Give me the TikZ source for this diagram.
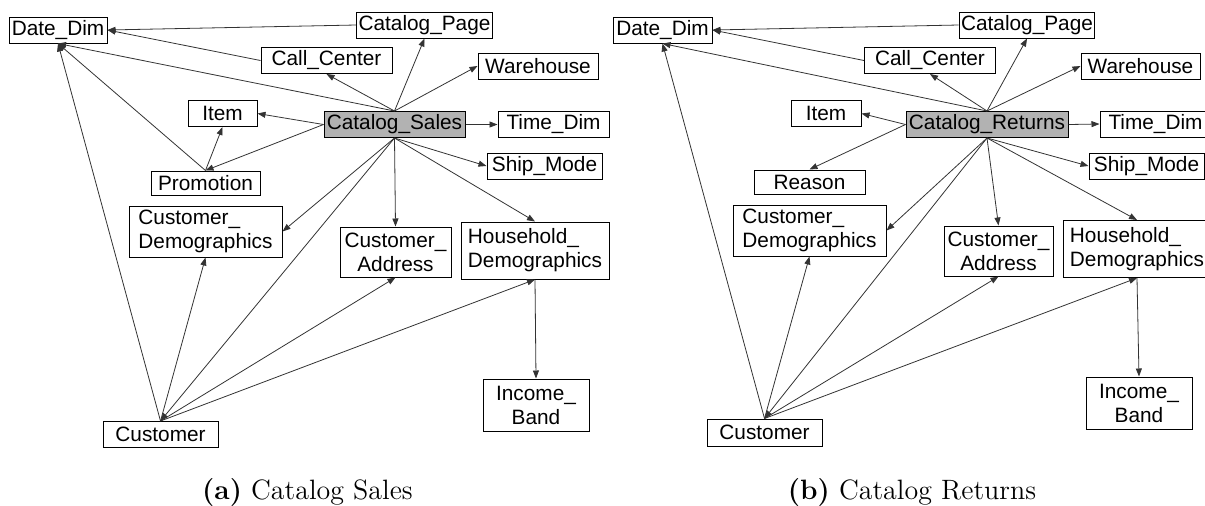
\documentclass[tikz,border=0pt]{standalone}
\usepackage{fontspec}
\newfontfamily\tblfont{Liberation Sans}
\usetikzlibrary{arrows.meta}
\tikzset{
    tbl/.style = {rectangle, draw=black, line width=0.5pt, fill=white, inner sep=1pt, minimum height=13pt, font=\tblfont\fontsize{10.4}{12}\selectfont},
    tblfact/.style = {tbl, fill=gray!60},
    tbltwo/.style = {tbl, align=left, minimum height=25.5pt},
    link/.style = {-{Triangle[length=4pt,width=3pt]}, line width=0.4pt, black!80},
    capt/.style = {anchor=base, font=\fontsize{14}{16}\selectfont},
}

\begin{document}
\begin{tikzpicture}[x=0.5pt,y=-0.5pt]
\useasboundingbox (0,0) rectangle (1205,505);

% (a) catalog sales
\node[tbl, minimum width=49pt] at (58,30) (ddA) {Date\_Dim};
\node[tbl, minimum width=67.5pt] at (424.5,25) (cpA) {Catalog\_Page};
\node[tbl, minimum width=65.5pt] at (326.5,60.5) (ccA) {Call\_Center};
\node[tbl, minimum width=60pt] at (538,66) (whA) {Warehouse};
\node[tbl, minimum width=34.5pt] at (222.5,113.5) (itA) {Item};
\node[tblfact, minimum width=70.5pt] at (394.5,124.5) (csA) {Catalog\_Sales};
\node[tbl, minimum width=55.5pt] at (553.5,124.5) (tdA) {Time\_Dim};
\node[tbl, minimum width=57.5pt] at (544.5,166) (smA) {Ship\_Mode};
\node[tbl, minimum width=54.5pt, minimum height=12pt] at (205.5,183) (prA) {Promotion};
\node[tbltwo, minimum width=76.5pt] at (205.5,231.5) (cdA) {Customer\_\\Demographics};
\node[tbltwo, align=center, minimum width=55.5pt, minimum height=25pt] at (395.5,252) (caA) {Customer\_\\Address};
\node[tbltwo, minimum width=74pt, minimum height=28.5pt] at (535,250.5) (hdA) {Household\_\\Demographics};
\node[tbltwo, align=center, minimum width=53pt, minimum height=26pt] at (536,405) (ibA) {Income\_\\Band};
\node[tbl, minimum width=57.5pt] at (160.5,434.5) (cuA) {Customer};

\draw[link] (csA.north) -- (ddA.south);
\draw[link] (csA.north) -- (ccA.south);
\draw[link] (csA.north) -- (cpA.south);
\draw[link] (csA.north) -- (whA.west);
\draw[link] (csA.west) -- (itA.east);
\draw[link] (csA.west) -- (prA.north);
\draw[link] (csA.east) -- (tdA.west);
\draw[link] (csA.south) -- (smA.west);
\draw[link] (csA.south) -- (cdA.east);
\draw[link] (csA.south) -- (caA.north);
\draw[link] (csA.south) -- (hdA.north);
\draw[link] (csA.south) -- (cuA.north);
\draw[link] (cpA.west) -- (ddA.east);
\draw[link] (ccA.west) -- (ddA.east);
\draw[link] (prA.north) -- (ddA.south);
\draw[link] (prA.north) -- (itA.south);
\draw[link] (cuA.north) -- (ddA.south);
\draw[link] (cuA.north) -- (cdA.south);
\draw[link] (cuA.north) -- (caA.south);
\draw[link] (cuA.north) -- (hdA.south);
\draw[link] (hdA.south) -- (ibA.north);

% (b) catalog returns
\node[tbl, minimum width=49.5pt] at (662.5,30) (ddB) {Date\_Dim};
\node[tbl, minimum width=67pt] at (1027,25) (cpB) {Catalog\_Page};
\node[tbl, minimum width=65.5pt] at (930,60.5) (ccB) {Call\_Center};
\node[tbl, minimum width=59.5pt] at (1140.5,66) (whB) {Warehouse};
\node[tbl, minimum width=35pt] at (826,113.5) (itB) {Item};
\node[tblfact, minimum width=81pt] at (987,124.5) (crB) {Catalog\_Returns};
\node[tbl, minimum width=55.5pt] at (1155.5,124) (tdB) {Time\_Dim};
\node[tbl, minimum width=57.5pt] at (1146.5,166) (smB) {Ship\_Mode};
\node[tbl, minimum width=55.5pt, minimum height=12pt] at (809.5,182) (reB) {Reason};
\node[tbltwo, minimum width=76.5pt] at (809.5,230.5) (cdB) {Customer\_\\Demographics};
\node[tbltwo, align=center, minimum width=54.5pt, minimum height=25pt] at (998.5,251) (caB) {Customer\_\\Address};
\node[tbltwo, minimum width=74pt, minimum height=28.5pt] at (1137,249) (hdB) {Household\_\\Demographics};
\node[tbltwo, align=center, minimum width=53pt, minimum height=26pt] at (1139,403) (ibB) {Income\_\\Band};
\node[tbl, minimum width=57.5pt, minimum height=13.5pt] at (764.5,432.5) (cuB) {Customer};

\draw[link] (crB.north) -- (ddB.south);
\draw[link] (crB.north) -- (ccB.south);
\draw[link] (crB.north) -- (cpB.south);
\draw[link] (crB.north) -- (whB.west);
\draw[link] (crB.west) -- (itB.east);
\draw[link] (crB.west) -- (reB.north);
\draw[link] (crB.east) -- (tdB.west);
\draw[link] (crB.south) -- (smB.west);
\draw[link] (crB.south) -- (cdB.east);
\draw[link] (crB.south) -- (caB.north);
\draw[link] (crB.south) -- (hdB.north);
\draw[link] (crB.south) -- (cuB.north);
\draw[link] (cpB.west) -- (ddB.east);
\draw[link] (ccB.west) -- (ddB.east);
\draw[link] (cuB.north) -- (ddB.south);
\draw[link] (cuB.north) -- (cdB.south);
\draw[link] (cuB.north) -- (caB.south);
\draw[link] (cuB.north) -- (hdB.south);
\draw[link] (hdB.south) -- (ibB.north);

\node[capt] at (307.5,499) (captA) {\textbf{(a)} Catalog Sales};
\node[capt] at (912,499) (captB) {\textbf{(b)} Catalog Returns};
\end{tikzpicture}
\end{document}
